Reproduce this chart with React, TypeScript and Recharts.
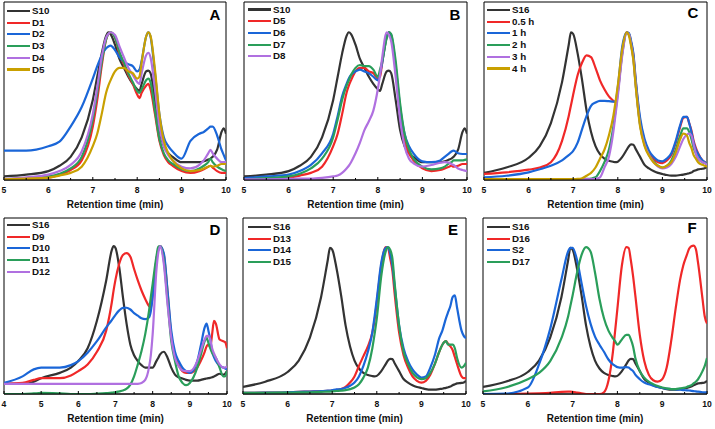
import React from 'react';
import { LineChart, Line, XAxis, YAxis, ReferenceArea } from 'recharts';

const FONT = 'Arial, "Liberation Sans", Helvetica, sans-serif';
const COL = { black: '#333333', red: '#f02828', blue: '#1a66d8', green: '#2a9e5a', purple: '#b070e0', gold: '#c9a000' };

// ---- Panels A & B (x grid) ----
const gridAB = [5, 5.5, 6, 6.25, 6.5, 6.75, 7, 7.1, 7.2, 7.3, 7.35, 7.4, 7.5, 7.6, 7.7, 7.8, 7.9, 8, 8.05, 8.1, 8.2, 8.25, 8.3, 8.4, 8.5, 8.6, 8.7, 8.8, 9, 9.2, 9.4, 9.5, 9.6, 9.65, 9.7, 9.8, 9.9, 9.95, 10];
const S10 = [2, 3, 5, 8, 13, 24, 45, 58, 71, 81, 83, 82, 76, 68, 63, 58, 54, 51, 50, 54, 61, 61.5, 60, 45, 28, 19, 15, 13, 10, 10, 10, 10.5, 11.5, 12, 13, 17, 27, 29, 26];
const D1 = [0.4, 0.8, 1.3, 3, 5.6, 11, 30, 45, 64, 79, 82, 83, 80, 71, 65, 59, 54, 48, 46, 49, 53, 54, 51, 37, 22, 14, 10, 8, 5, 4, 5, 6, 7.5, 8, 7, 5, 4, 4, 4];
const D2 = [16.5, 16.5, 19, 21.5, 30, 41, 57, 64, 70, 74, 75, 75.5, 73, 69, 66.5, 65, 64, 61, 62, 67, 80.5, 83, 80.5, 60, 37, 24, 19, 16, 12, 22, 26, 27, 29, 30, 30, 25, 17, 14, 11];
const D3 = [0.4, 1, 2, 3.5, 6.5, 13, 34, 49, 66, 79, 82, 83, 80, 72, 66, 60, 55, 50, 49, 51, 56, 57, 55, 39, 23, 15, 11, 9, 6, 5, 6.5, 8, 10, 12, 10, 7.5, 6, 5.5, 5];
const D4 = [0.5, 1.5, 3, 5, 8.5, 16, 37, 52, 69, 80, 82, 83, 81.5, 75, 69, 63, 59, 55, 54, 60, 70, 71.5, 69, 51, 30, 19, 14, 11, 7.5, 6.5, 8.5, 11, 15, 17, 15, 12, 10, 10, 10];
const D5 = [0.4, 0.8, 1.3, 2.5, 4, 7.5, 19, 26, 37, 49, 53, 56, 61, 63, 63, 61, 60, 57, 58, 66, 80.5, 83, 81, 62, 37, 22, 15, 11, 6.5, 5, 5.6, 6.5, 7.5, 8, 7.5, 8, 9, 9, 9];
const D6 = [1, 2, 3, 5, 8.5, 15, 26, 36, 47, 54, 57, 59, 61, 62, 61, 60, 58, 56, 60, 66, 80.5, 83, 81.5, 64, 41, 26, 19, 15, 10.5, 10, 11, 13, 15, 16, 16.5, 15, 14.6, 14.6, 14.6];
const D7 = [0.4, 1, 2, 3.5, 6.5, 12, 24, 34, 45, 53, 56, 59, 63, 64.6, 64, 64, 62, 58, 62, 67, 79.6, 83, 82, 67, 43, 26, 17, 12, 7.5, 6, 6.5, 7.5, 9.4, 10, 11, 11, 11, 11.3, 11.6];
const D8 = [0.4, 0.4, 0.6, 0.8, 0.8, 1.2, 2, 2.5, 4, 6.5, 8, 10, 15, 21, 28, 33, 39, 51, 59, 69, 83, 81.5, 78, 58, 34, 19, 12, 9.4, 7.5, 8.4, 9.7, 10, 9.7, 9, 8.4, 6.5, 5.6, 5.3, 5];

// ---- Panels C, E, F (x grid) ----
const gridCEF = [5, 5.5, 6, 6.25, 6.5, 6.75, 6.9, 6.95, 7, 7.1, 7.2, 7.3, 7.4, 7.5, 7.6, 7.7, 7.8, 7.9, 7.95, 8, 8.1, 8.2, 8.25, 8.3, 8.35, 8.4, 8.5, 8.6, 8.7, 8.8, 8.9, 9, 9.1, 9.2, 9.3, 9.4, 9.47, 9.55, 9.6, 9.65, 9.7, 9.75, 9.8, 9.9, 9.95, 10];
const S16 = [4, 7, 12.5, 19, 32, 55, 76, 83, 82, 71, 56, 39, 27, 19, 14.5, 12, 10.8, 10.2, 10, 10.3, 13, 17, 19, 20, 19.8, 17.5, 13, 8.5, 6.5, 5, 4, 3.4, 2.8, 2.5, 2.5, 2.8, 3, 3.5, 3.8, 4.2, 5, 5.5, 6, 6.3, 6.6, 7.5];
const H05 = [3.4, 4.3, 5.8, 7, 10, 22, 36, 42, 48, 59, 66, 70, 69, 63, 56, 51, 47, 44.5, 43.5, 50, 72, 83, 82, 77, 70, 56, 33, 22, 15.5, 12, 10, 9.5, 11, 14, 21, 30, 35, 35.5, 32, 28, 22, 18, 15, 11, 10, 9];
const H1 = [1.5, 2.4, 4.3, 6, 8, 11, 14, 15, 16.4, 21, 28.6, 36, 41.7, 43.5, 44.5, 44.5, 44.3, 44, 44, 52, 75, 83, 82.5, 78, 71, 57, 35, 23, 16.5, 13, 11, 10.5, 12, 15, 22, 31, 35.5, 35.5, 32, 27, 21, 17, 14.6, 11, 10, 9];
const H2 = [0.5, 0.5, 0.5, 0.5, 0.5, 0.5, 0.5, 0.5, 0.5, 0.5, 0.5, 0.6, 0.8, 1.5, 5, 10, 17, 30, 39, 49, 71, 82.5, 82, 76, 68, 54, 31, 20, 14, 10.5, 8, 7, 8, 11, 17, 25, 29, 29, 27, 23, 18, 15, 12, 10, 9.5, 9];
const H3 = [0.5, 0.5, 0.5, 0.5, 0.5, 0.5, 0.5, 0.5, 0.5, 0.5, 0.5, 0.5, 0.5, 0.7, 1.5, 7, 13, 27, 37, 47, 70, 82.5, 82, 76, 68, 54, 31, 20, 14, 10, 7.5, 6.5, 7, 9, 13, 19, 23, 25.5, 26, 25, 20, 15, 12, 10, 9.5, 8.5];
const H4 = [0.5, 0.5, 0.5, 0.5, 0.5, 0.5, 0.5, 0.5, 0.5, 0.6, 1, 2.4, 4, 7, 12, 17, 25, 36, 44, 53, 73.5, 83, 81, 75, 67, 53, 30, 19, 13.6, 10, 8, 7, 8, 10, 15.5, 23, 26, 25, 21, 18, 14, 12, 10, 8.5, 8, 7.5];
const D13 = [0.6, 0.8, 1, 1.2, 1.4, 1.6, 1.8, 1.8, 1.9, 2.3, 2.8, 4, 6.5, 10, 16, 21.5, 27, 35, 42, 52, 73, 83.4, 83, 77, 70, 57, 35, 22, 15, 10, 7.5, 6.5, 7.5, 11, 17, 24, 28, 30, 28.5, 27, 25, 21, 17, 10, 9, 9];
const D14 = [0.6, 0.8, 1, 1.2, 1.4, 1.6, 1.9, 2, 2.2, 2.6, 2.8, 3.5, 4.7, 6.5, 10, 16, 24, 35, 44, 54, 74.6, 83, 83.4, 80, 73, 61.5, 39, 26, 18.7, 14, 11, 9.3, 10, 15, 22, 31.7, 36, 43, 46.6, 50, 55, 56, 49, 36, 33, 31.7];
const D15 = [0.6, 0.7, 0.8, 0.9, 1, 1.2, 1.4, 1.4, 1.5, 1.7, 1.9, 2.2, 2.8, 3.7, 5.6, 9.3, 15, 26, 34, 43, 67, 81, 83.4, 82, 77, 63, 39, 24, 17, 12, 9.5, 8.4, 9, 12, 17, 24, 28, 30, 28, 28, 28, 26, 20.5, 15, 15.7, 17.7];
const D16 = [0, 0, 0.2, 0.4, 0.7, 1.2, 1.3, 1.3, 1.2, 0.8, 0.4, 0, 0, 0, 0, 1, 7.5, 24, 36, 48.5, 73, 83.4, 83, 76, 67, 56, 33.6, 18.7, 11, 7.8, 7, 8.4, 15, 30, 48.5, 65, 73, 79, 82.5, 84, 84.3, 82.5, 74.6, 54, 44, 40];
const S2 = [0, 0.2, 3.7, 16.8, 37, 65, 81, 83, 83, 76, 63, 50, 40, 32.6, 28, 24, 19.6, 16.8, 16, 15.3, 15, 15.3, 15, 14, 13, 11, 8.4, 6.5, 5.5, 4.7, 4, 3.4, 3, 2.8, 2.6, 2.4, 2.2, 2.1, 2, 1.8, 1.6, 1.5, 1.3, 1, 0.9, 0.9];
const D17 = [1.5, 3.7, 8.4, 12, 18.7, 31.7, 44, 50, 56, 69, 79, 83.4, 81, 69, 54, 43, 36, 31.7, 30, 28, 31, 33.6, 33.6, 31, 27, 20.5, 13, 9.3, 7, 5.6, 4.5, 3.7, 3.2, 2.8, 2.8, 3.2, 3.5, 4, 4.5, 5, 6, 7, 8.4, 13, 16, 20.5];

// ---- Panel D (x grid) ----
const gridD = [4, 4.5, 4.8, 5, 5.5, 5.8, 6, 6.25, 6.5, 6.75, 6.9, 6.95, 7, 7.1, 7.2, 7.3, 7.4, 7.5, 7.6, 7.7, 7.8, 7.9, 7.95, 8, 8.1, 8.15, 8.2, 8.3, 8.4, 8.5, 8.6, 8.7, 8.8, 8.9, 9, 9.2, 9.3, 9.4, 9.45, 9.5, 9.55, 9.6, 9.65, 9.7, 9.8, 9.9, 9.95, 10];
const S16d = [5.7, 5.7, 7, 9, 12, 15, 18.7, 26, 41.6, 64.5, 81.7, 84, 83, 72, 55, 39.7, 28, 22, 18.7, 16.4, 15, 15, 15, 15, 18.7, 20.5, 22.5, 24, 20.6, 15, 11, 9.5, 8.8, 8, 7.6, 7.6, 8, 8.6, 8.8, 9, 9.2, 9.5, 10, 10.5, 11.5, 11, 11.5, 13];
const D9 = [5.7, 6.3, 8, 9, 9, 10.5, 13, 16.8, 24, 36, 52, 59, 65, 74, 79, 80, 78, 71, 64.5, 58.8, 54, 50, 49, 56, 76, 82, 84, 79, 58, 33, 22, 16.5, 13, 12, 12, 15, 19, 24, 27, 28, 26.5, 34, 41.6, 40, 31, 30, 29.5, 26];
const D10 = [6.3, 10, 14, 15, 15, 16.4, 18.7, 23.5, 30, 37.8, 42, 43.5, 45, 47.5, 48.9, 49, 48, 46, 44.5, 43, 42.5, 43.5, 47, 55, 76, 82, 84, 80, 58.8, 36, 24, 18.7, 15, 13, 12, 18.7, 28, 37.8, 40, 36, 31, 24, 21, 18.7, 16, 15, 14.5, 14];
const D11 = [0, 0, 0.3, 0.6, 0.3, 0, 0, 0, 0.2, 0.5, 0.8, 0.9, 1, 1.5, 2, 3, 5.3, 10, 16.8, 24.4, 34, 47, 55, 62.6, 78, 83.6, 84, 76, 53, 30, 18.7, 10, 6.3, 5, 6.3, 15, 22.5, 30, 32, 29, 26, 23.5, 22, 20.6, 15, 10, 10, 13];
const D12 = [5.7, 5.7, 5.7, 5.7, 5.7, 5.7, 5.7, 5.7, 5.7, 5.7, 5.7, 5.7, 5.7, 5.7, 5.7, 5.7, 5.7, 5.7, 5.8, 6.3, 8, 15, 22, 34, 70, 80, 84, 74, 51, 32, 20.6, 15.8, 13.4, 13, 13, 18.7, 25, 31, 33, 33, 31, 26, 23, 20.6, 16.8, 15, 15, 15.8];

const AXIS_TITLE = 'Retention time (min)';

type Series = { name: string; color: string; values: number[] };
type PanelCfg = {
  letter: string; left: number; top: number; w: number; h: number; xMin: number; grid: number[];
  series: Series[]; legDx: number; legDy: number; letterX: number; letterY: number;
};

const panels: PanelCfg[] = [
  { letter: 'A', left: 4, top: 2, w: 222, h: 178, xMin: 5, grid: gridAB, legDx: 3, legDy: 9, letterX: 215, letterY: 15,
    series: [
      { name: 'S10', color: COL.black, values: S10 },
      { name: 'D1', color: COL.red, values: D1 },
      { name: 'D2', color: COL.blue, values: D2 },
      { name: 'D3', color: COL.green, values: D3 },
      { name: 'D4', color: COL.purple, values: D4 },
      { name: 'D5', color: COL.gold, values: D5 },
    ] },
  { letter: 'B', left: 244, top: 2, w: 223, h: 178, xMin: 5, grid: gridAB, legDx: 4, legDy: 7.5, letterX: 455, letterY: 15,
    series: [
      { name: 'S10', color: COL.black, values: S10 },
      { name: 'D5', color: COL.red, values: D5 },
      { name: 'D6', color: COL.blue, values: D6 },
      { name: 'D7', color: COL.green, values: D7 },
      { name: 'D8', color: COL.purple, values: D8 },
    ] },
  { letter: 'C', left: 484, top: 2, w: 223, h: 178, xMin: 5, grid: gridCEF, legDx: 3, legDy: 8, letterX: 693, letterY: 13,
    series: [
      { name: 'S16', color: COL.black, values: S16 },
      { name: '0.5 h', color: COL.red, values: H05 },
      { name: '1 h', color: COL.blue, values: H1 },
      { name: '2 h', color: COL.green, values: H2 },
      { name: '3 h', color: COL.purple, values: H3 },
      { name: '4 h', color: COL.gold, values: H4 },
    ] },
  { letter: 'D', left: 4, top: 218, w: 223, h: 176, xMin: 4, grid: gridD, legDx: 3, legDy: 7, letterX: 215, letterY: 230,
    series: [
      { name: 'S16', color: COL.black, values: S16d },
      { name: 'D9', color: COL.red, values: D9 },
      { name: 'D10', color: COL.blue, values: D10 },
      { name: 'D11', color: COL.green, values: D11 },
      { name: 'D12', color: COL.purple, values: D12 },
    ] },
  { letter: 'E', left: 243, top: 218, w: 223, h: 176, xMin: 5, grid: gridCEF, legDx: 5, legDy: 9, letterX: 453, letterY: 230,
    series: [
      { name: 'S16', color: COL.black, values: S16 },
      { name: 'D13', color: COL.red, values: D13 },
      { name: 'D14', color: COL.blue, values: D14 },
      { name: 'D15', color: COL.green, values: D15 },
    ] },
  { letter: 'F', left: 483, top: 218, w: 224, h: 176, xMin: 5, grid: gridCEF, legDx: 4, legDy: 9, letterX: 692, letterY: 228,
    series: [
      { name: 'S16', color: COL.black, values: S16 },
      { name: 'D16', color: COL.red, values: D16 },
      { name: 'S2', color: COL.blue, values: S2 },
      { name: 'D17', color: COL.green, values: D17 },
    ] },
];

const ML = 10, MR = 10, MT = 6, XH = 22;

function Panel({ cfg }: { cfg: PanelCfg }) {
  const data = cfg.grid.map((x, i) => {
    const row: Record<string, number> = { x };
    cfg.series.forEach((s, j) => { row['s' + j] = s.values[i]; });
    return row;
  });
  const ticks: number[] = [];
  for (let t = cfg.xMin * 2; t <= 20; t++) ticks.push(t / 2);
  const axisY = MT + cfg.h;
  const renderTick = (p: any) => {
    const v = p.payload.value;
    const major = Number.isInteger(v);
    return (
      <g>
        <line x1={p.x} x2={p.x} y1={axisY} y2={axisY - (major ? 3 : 2)} stroke="#000" strokeWidth={1} />
        {major && (
          <text x={p.x} y={axisY + 13} textAnchor="middle" fontSize={8.6} fontWeight="bold" fontFamily={FONT} fill="#111">{v}</text>
        )}
      </g>
    );
  };
  return (
    <div style={{ position: 'absolute', left: cfg.left - ML, top: cfg.top - MT }}>
      <LineChart width={cfg.w + ML + MR} height={cfg.h + MT + XH} data={data} margin={{ top: MT, right: MR, bottom: 0, left: ML }}>
        <XAxis type="number" dataKey="x" domain={[cfg.xMin, 10]} ticks={ticks} interval={0} tick={renderTick}
          tickLine={false} tickSize={0} tickMargin={0} axisLine={{ stroke: '#000', strokeWidth: 1 }} height={XH} allowDataOverflow />
        <YAxis hide domain={[0, 100]} allowDataOverflow />
        {cfg.series.map((s, j) => (
          <Line key={j} type="monotone" dataKey={'s' + j} stroke={s.color} strokeWidth={2.2} dot={false} activeDot={false} isAnimationActive={false} />
        ))}
        <ReferenceArea x1={cfg.xMin} x2={10} y1={0} y2={100} fill="none" fillOpacity={0} stroke="#000" strokeWidth={1} ifOverflow="visible" />
      </LineChart>
    </div>
  );
}

function Legend({ cfg }: { cfg: PanelCfg }) {
  const x0 = cfg.left + cfg.legDx;
  const y0 = cfg.top + cfg.legDy;
  return (
    <>
      {cfg.series.map((s, i) => (
        <div key={i} style={{ position: 'absolute', left: x0, top: y0 + i * 11.7 - 6, height: 12, display: 'flex', alignItems: 'center', whiteSpace: 'nowrap' }}>
          <span style={{ display: 'inline-block', width: 23, height: 2.2, background: s.color }} />
          <span style={{ marginLeft: 2, fontFamily: FONT, fontWeight: 'bold', fontSize: 9.8, color: '#111', lineHeight: '12px' }}>{s.name}</span>
        </div>
      ))}
    </>
  );
}

export default function App() {
  return (
    <div style={{ position: 'absolute', left: 0, top: 0, width: 715, height: 429, background: '#fff', overflow: 'hidden' }}>
      {panels.map((p) => <Panel key={p.letter} cfg={p} />)}
      {panels.map((p) => <Legend key={'l' + p.letter} cfg={p} />)}
      {panels.map((p) => (
        <div key={'t' + p.letter} style={{ position: 'absolute', left: p.left, width: p.w, top: p.top + p.h + 18, textAlign: 'center', fontFamily: FONT, fontWeight: 'bold', fontSize: 10, lineHeight: '13px', color: '#111' }}>{AXIS_TITLE}</div>
      ))}
      {panels.map((p) => (
        <div key={'k' + p.letter} style={{ position: 'absolute', left: p.letterX - 10, width: 20, top: p.letterY - 9, textAlign: 'center', fontFamily: FONT, fontWeight: 'bold', fontSize: 15, lineHeight: '18px', color: '#000' }}>{p.letter}</div>
      ))}
    </div>
  );
}
